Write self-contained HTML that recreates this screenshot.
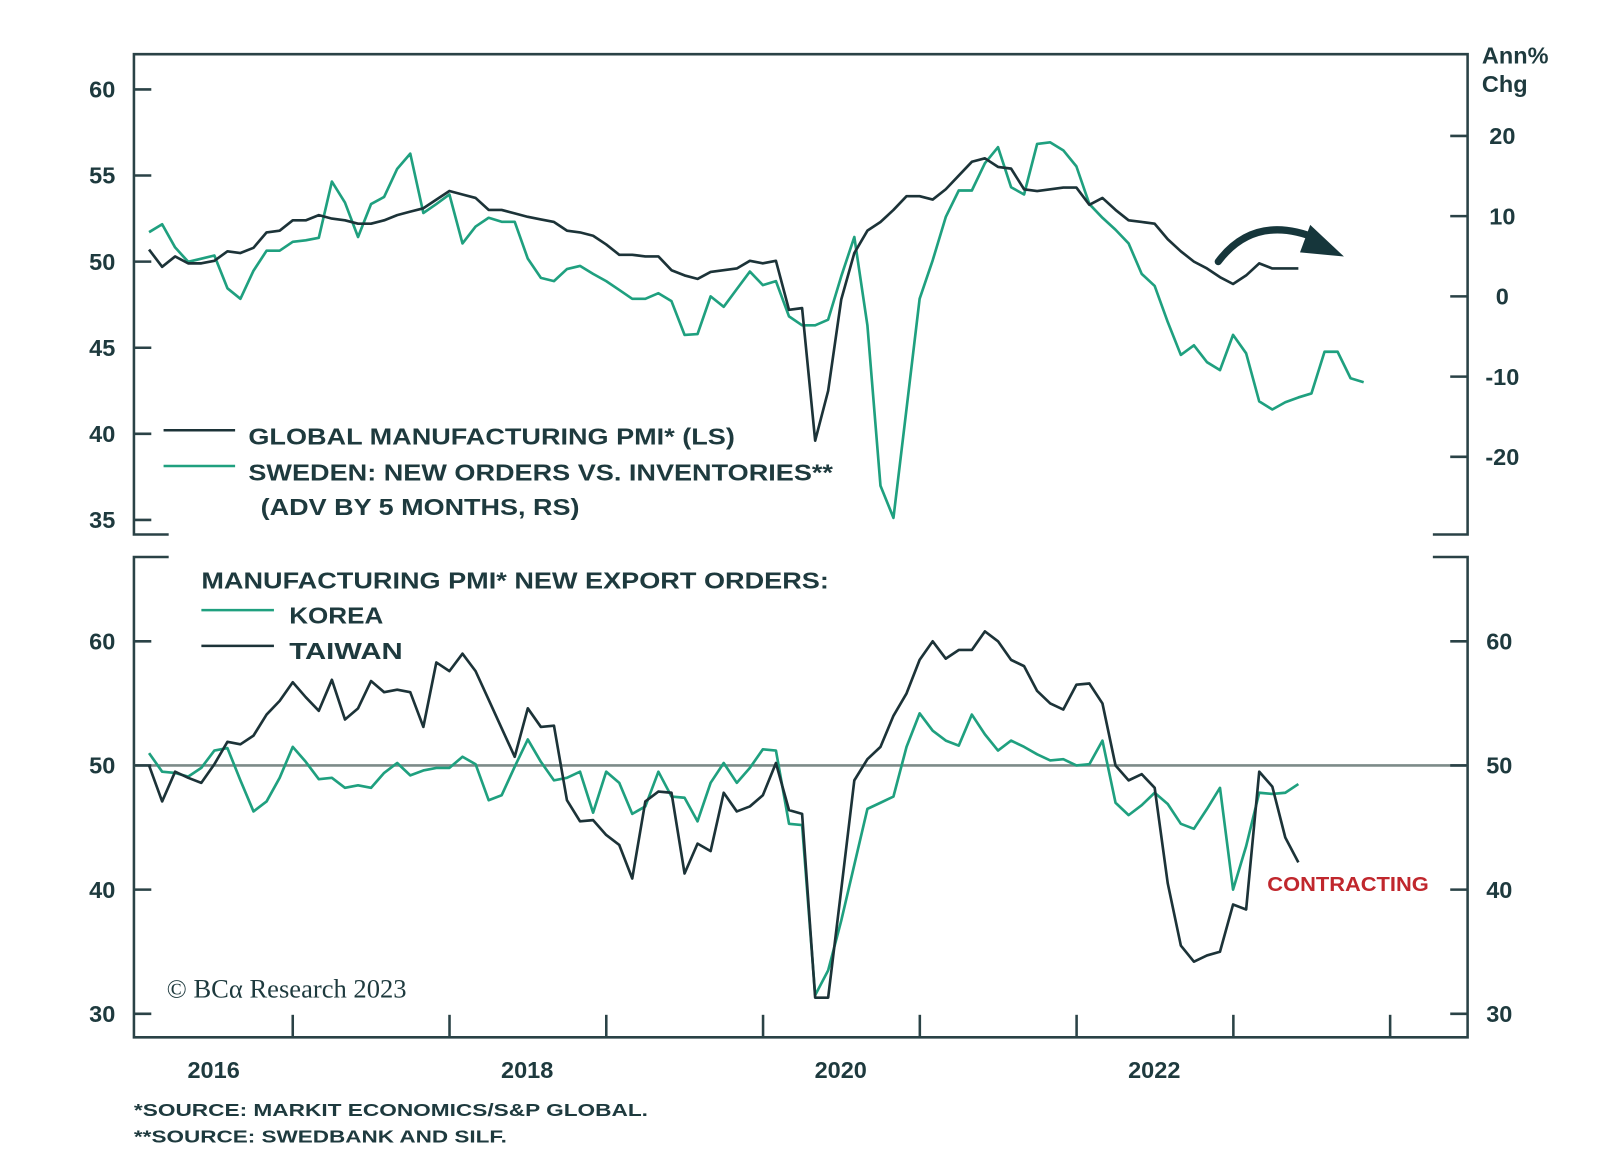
<!DOCTYPE html>
<html><head><meta charset="utf-8"><style>
html,body{margin:0;padding:0;background:#fff;}
svg{display:block;}
text{font-family:"Liberation Sans",sans-serif;font-weight:bold;fill:#1e3a3e;}
</style></head><body>
<svg id="chart" width="1600" height="1163" viewBox="0 0 1565.5 1138" xmlns="http://www.w3.org/2000/svg">
<g id="frame" stroke="#2a4246" stroke-width="2.5" fill="none">
  <path d="M165,523 H131 V53 H1436 V523 H1402"/>
  <path d="M165,545 H131 V1015 H1436 V545 H1402"/>
</g>
<line x1="131" x2="1436" y1="749" y2="749" stroke="#7d8b89" stroke-width="2.5"/>
<g id="ticks" stroke="#2a4246" stroke-width="2.5"></g>
<g id="labels"></g>
<g id="series"></g>
<text x="1450" y="62" font-size="23">Ann%</text>
<text x="1450" y="90" font-size="23">Chg</text>
<g>
  <line x1="160" x2="230" y1="421" y2="421" stroke="#1c3338" stroke-width="2.5"/>
  <line x1="160" x2="230" y1="456" y2="456" stroke="#1fa07f" stroke-width="2.5"/>
  <text x="243" y="435" font-size="23" textLength="476" lengthAdjust="spacingAndGlyphs">GLOBAL MANUFACTURING PMI* (LS)</text>
  <text x="243" y="470" font-size="23" textLength="572" lengthAdjust="spacingAndGlyphs">SWEDEN: NEW ORDERS VS. INVENTORIES**</text>
  <text x="255" y="504" font-size="23" textLength="312" lengthAdjust="spacingAndGlyphs">(ADV BY 5 MONTHS, RS)</text>
</g>
<g>
  <text x="197" y="576" font-size="23" textLength="614" lengthAdjust="spacingAndGlyphs">MANUFACTURING PMI* NEW EXPORT ORDERS:</text>
  <line x1="197" x2="268" y1="597" y2="597" stroke="#1fa07f" stroke-width="2.5"/>
  <line x1="197" x2="268" y1="632" y2="632" stroke="#1c3338" stroke-width="2.5"/>
  <text x="283" y="610" font-size="23" textLength="92" lengthAdjust="spacingAndGlyphs">KOREA</text>
  <text x="283" y="645" font-size="23" textLength="111" lengthAdjust="spacingAndGlyphs">TAIWAN</text>
</g>
<text x="163" y="976" font-size="26" style="font-family:'Liberation Serif',serif;font-weight:normal;">© BCα Research 2023</text>
<text x="1240" y="872" font-size="20" style="fill:#c0272d" textLength="158" lengthAdjust="spacingAndGlyphs">CONTRACTING</text>
<text x="131" y="1092" font-size="17" textLength="503" lengthAdjust="spacingAndGlyphs">*SOURCE: MARKIT ECONOMICS/S&amp;P GLOBAL.</text>
<text x="131" y="1118" font-size="17" textLength="365" lengthAdjust="spacingAndGlyphs">**SOURCE: SWEDBANK AND SILF.</text>
<g>
  <path d="M1192,256 Q1228,208 1290,234" fill="none" stroke="#16363b" stroke-width="7" stroke-linecap="round"/>
  <path d="M1282,220 L1315,251 L1272,247 Z" fill="#16363b"/>
</g>
<script>
const globalPmi=[50.7,49.7,50.3,49.9,49.9,50.05,50.6,50.5,50.8,51.7,51.8,52.4,52.4,52.7,52.5,52.4,52.2,52.2,52.4,52.7,52.9,53.1,53.6,54.1,53.9,53.7,53.0,53.0,52.8,52.6,52.45,52.3,51.8,51.7,51.5,51.0,50.4,50.4,50.3,50.3,49.5,49.2,49.0,49.4,49.5,49.6,50.05,49.9,50.05,47.2,47.3,39.6,42.5,47.8,50.5,51.8,52.3,53.0,53.8,53.8,53.6,54.2,55.0,55.8,56.0,55.5,55.4,54.2,54.1,54.2,54.3,54.3,53.3,53.7,53.0,52.4,52.3,52.2,51.3,50.6,50.0,49.6,49.1,48.7,49.2,49.9,49.6,49.6,49.6];
const sweden=[8.0,9.0,6.1,4.3,4.7,5.1,1.0,-0.3,3.2,5.7,5.7,6.8,7.0,7.3,14.3,11.7,7.4,11.5,12.4,15.9,17.8,10.4,11.5,12.7,6.6,8.7,9.8,9.3,9.3,4.7,2.3,1.9,3.4,3.8,2.8,1.9,0.8,-0.3,-0.3,0.4,-0.6,-4.8,-4.7,0,-1.3,0.9,3.1,1.4,1.9,-2.5,-3.6,-3.6,-2.9,2.5,7.4,-3.6,-23.6,-27.6,-14,-0.3,4.5,9.9,13.2,13.2,16.6,18.6,13.6,12.7,19.0,19.2,18.2,16.2,11.5,9.8,8.3,6.6,2.8,1.3,-3.2,-7.3,-6.1,-8.2,-9.2,-4.8,-7.1,-13.1,-14.1,-13.2,-12.6,-12.1,-6.9,-6.9,-10.2,-10.7];
const taiwan=[50.0,47.1,49.5,49.0,48.6,50.1,51.9,51.7,52.4,54.1,55.2,56.7,55.5,54.4,56.9,53.7,54.6,56.8,55.9,56.1,55.9,53.1,58.3,57.6,59.0,57.6,55.3,53.0,50.7,54.6,53.1,53.2,47.2,45.5,45.6,44.4,43.6,40.9,47.1,47.9,47.8,41.3,43.7,43.1,47.8,46.3,46.7,47.6,50.2,46.4,46.1,31.3,31.3,40.0,48.8,50.5,51.5,54.0,55.8,58.5,60.0,58.6,59.3,59.3,60.8,60.0,58.5,58.0,56.0,55.0,54.5,56.5,56.6,55.0,50.0,48.8,49.3,48.2,40.5,35.5,34.2,34.7,35.0,38.8,38.4,49.5,48.3,44.2,42.2];
const korea=[51.0,49.5,49.4,49.1,49.8,51.2,51.4,48.8,46.3,47.1,49.0,51.5,50.3,48.9,49.0,48.2,48.4,48.2,49.4,50.2,49.2,49.6,49.8,49.8,50.7,50.1,47.2,47.6,49.9,52.1,50.3,48.8,49.0,49.5,46.2,49.5,48.6,46.1,46.7,49.5,47.5,47.4,45.5,48.6,50.2,48.6,49.8,51.3,51.2,45.3,45.2,31.5,33.5,37.5,42.0,46.5,47.0,47.5,51.5,54.2,52.8,52.0,51.6,54.1,52.5,51.2,52.0,51.5,50.9,50.4,50.5,50.0,50.1,52.0,47.0,46.0,46.8,47.8,46.9,45.3,44.9,46.5,48.2,40.0,43.5,47.8,47.7,47.8,48.5];
const topLeftTicks=[60,55,50,45,40,35];
const topRightTicks=[20,10,0,-10,-20];
const bottomTicks=[60,50,40,30];
const yearLabels=[2016,2018,2020,2022];
const yearTicks=[2017,2018,2019,2020,2021,2022,2023,2024];

const NS="http://www.w3.org/2000/svg";
function xM(m){return 133+m*12.78;}
function xYear(y){return 133+(y-2016)*153.4;}
function yTL(v){return 256-(v-50)*16.85;}
function yTR(v){return 290-v*7.85;}
function yB(v){return 749-(v-50)*12.15;}
function mk(tag,attrs,parent){const e=document.createElementNS(NS,tag);for(const k in attrs)e.setAttribute(k,attrs[k]);parent.appendChild(e);return e;}
const tg=document.getElementById('ticks'),lg=document.getElementById('labels'),sg=document.getElementById('series');

topLeftTicks.forEach(v=>{const y=yTL(v);
 const t=mk('line',{x1:131,x2:148,y1:y,y2:y},tg);
 
 
 const l=mk('text',{x:100,y:y+8,'font-size':23,'text-anchor':'middle'},lg);l.textContent=v;
 
 });
topRightTicks.forEach(v=>{const y=yTR(v);
 const t=mk('line',{x1:1419,x2:1436,y1:y,y2:y},tg);
 
 
 const l=mk('text',{x:1470,y:y+8,'font-size':23,'text-anchor':'middle'},lg);l.textContent=v;
 
 });
bottomTicks.forEach(v=>{const y=yB(v);
 mk('line',{x1:131,x2:148,y1:y,y2:y},tg);
 const t=mk('line',{x1:1419,x2:1436,y1:y,y2:y},tg);
 
 
 const l=mk('text',{x:100,y:y+8,'font-size':23,'text-anchor':'middle'},lg);l.textContent=v;
 
 
 const r=mk('text',{x:1467,y:y+8,'font-size':23,'text-anchor':'middle'},lg);r.textContent=v;
 
 });
yearTicks.forEach(yr=>{const x=xYear(yr);
 const t=mk('line',{x1:x,x2:x,y1:993,y2:1015},tg);
 
 });
yearLabels.forEach(yr=>{const l=mk('text',{x:xYear(yr)+76,y:1055,'font-size':23,'text-anchor':'middle'},lg);l.textContent=yr;
 
 });

function line(data,yf,color,name){
 const d=data.map((v,i)=>(i?'L':'M')+xM(i+1).toFixed(1)+','+yf(v).toFixed(1)).join(' ');
 const p=mk('path',{d:d,fill:'none',stroke:color,'stroke-width':2.6,'stroke-linejoin':'round'},sg);
 
 
}
line(sweden,yTR,'#1fa07f','sweden-line');
line(globalPmi,yTL,'#1c3338','global-pmi-line');
line(korea,yB,'#1fa07f','korea-line');
line(taiwan,yB,'#1c3338','taiwan-line');
</script>
</svg>
</body></html>
